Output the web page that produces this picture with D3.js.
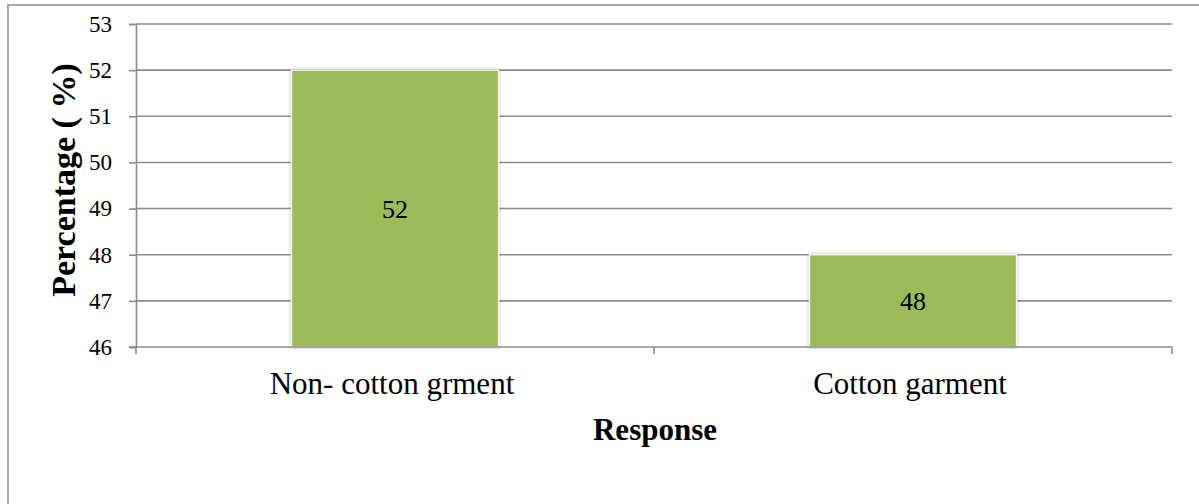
<!DOCTYPE html>
<html>
<head>
<meta charset="utf-8">
<script src="https://cdn.jsdelivr.net/npm/d3@7"></script>
<style>
  html, body { margin: 0; padding: 0; background: #fff; }
  svg { display: block; }
  text { font-family: "Liberation Serif", "Times New Roman", serif; fill: #000; }
</style>
</head>
<body>
<svg id="chart" width="1199" height="504"></svg>
<script>
// Survey response shares
const categories = ["Non- cotton grment", "Cotton garment"];
const percentages = [52, 48];
const yTicks = [46, 47, 48, 49, 50, 51, 52, 53];

const serif = "'Liberation Serif', 'Times New Roman', serif";
const svg = d3.select("#chart");
const W = 1199, H = 504;
const plot = { left: 136, right: 1172, top: 24, bottom: 347 };

// Chart frame (left and top edges visible)
svg.append("rect")
  .attr("x", 8).attr("y", 5)
  .attr("width", W + 20).attr("height", H + 20)
  .attr("fill", "#fff")
  .attr("stroke", "#a6a6a6").attr("stroke-width", 2);

const y = d3.scaleLinear().domain([46, 53]).range([plot.bottom, plot.top]);
const x = d3.scaleBand().domain(categories)
  .range([plot.left, plot.right])
  .paddingInner(0.6).paddingOuter(0.3);
const xBand = d3.scaleBand().domain(categories).range([plot.left, plot.right]);

// Horizontal gridlines
svg.append("g").selectAll("line").data(yTicks.filter(t => t !== 46)).join("line")
  .attr("x1", plot.left).attr("x2", plot.right)
  .attr("y1", d => y(d)).attr("y2", d => y(d))
  .attr("stroke", "#8c8c8c").attr("stroke-width", 1.6);

// Soft shadow around bars
const defs = svg.append("defs");
const f = defs.append("filter").attr("id", "barShadow")
  .attr("x", "-5%").attr("y", "-5%").attr("width", "110%").attr("height", "110%");
f.append("feGaussianBlur").attr("in", "SourceAlpha").attr("stdDeviation", 1.5).attr("result", "b");
f.append("feComponentTransfer").attr("in", "b").attr("result", "s")
  .append("feFuncA").attr("type", "linear").attr("slope", 0.35);
const m = f.append("feMerge");
m.append("feMergeNode").attr("in", "s");
m.append("feMergeNode").attr("in", "SourceGraphic");

// Bars
svg.append("g").selectAll("rect").data(categories).join("rect")
  .attr("x", d => x(d))
  .attr("y", (d, i) => y(percentages[i]))
  .attr("width", x.bandwidth())
  .attr("height", (d, i) => y(46) - y(percentages[i]))
  .attr("fill", "#9bbb59")
  .attr("stroke", "#f2f2f2").attr("stroke-width", 1.5)
  .attr("filter", "url(#barShadow)");

// Value labels
svg.append("g").selectAll("text").data(categories).join("text")
  .attr("x", d => x(d) + x.bandwidth() / 2)
  .attr("y", (d, i) => (y(percentages[i]) + y(46)) / 2)
  .attr("dy", "0.35em")
  .attr("text-anchor", "middle")
  .attr("font-family", serif)
  .attr("font-size", 26)
  .text((d, i) => percentages[i]);

// Y axis
const yAxis = svg.append("g").attr("transform", `translate(${plot.left},0)`)
  .call(d3.axisLeft(y).tickValues(yTicks).tickSize(7).tickPadding(17).tickFormat(d3.format("d")));
yAxis.attr("font-family", serif);
yAxis.select(".domain").attr("stroke", "#8c8c8c").attr("stroke-width", 1.6);
yAxis.selectAll(".tick line").attr("stroke", "#8c8c8c").attr("stroke-width", 1.6);
yAxis.selectAll(".tick text").attr("font-size", 23)
  .attr("font-family", serif).attr("fill", "#000");

// X axis baseline and category ticks
svg.append("line")
  .attr("x1", plot.left - 7).attr("x2", plot.right)
  .attr("y1", plot.bottom).attr("y2", plot.bottom)
  .attr("stroke", "#8c8c8c").attr("stroke-width", 1.6);
const bounds = [plot.left, ...categories.map(c => xBand(c) + xBand.bandwidth())];
svg.append("g").selectAll("line").data(bounds).join("line")
  .attr("x1", d => d).attr("x2", d => d)
  .attr("y1", plot.bottom).attr("y2", plot.bottom + 7)
  .attr("stroke", "#8c8c8c").attr("stroke-width", 1.6);

// Category labels
svg.append("g").selectAll("text").data(categories).join("text")
  .attr("x", d => xBand(d) + xBand.bandwidth() / 2 - 3)
  .attr("y", 394)
  .attr("text-anchor", "middle")
  .attr("font-family", serif)
  .attr("font-size", 31)
  .text(d => d);

// Axis titles
svg.append("text")
  .attr("x", 655).attr("y", 440)
  .attr("text-anchor", "middle")
  .attr("font-family", serif)
  .attr("font-size", 31).attr("font-weight", "bold")
  .text("Response");

svg.append("text")
  .attr("transform", `translate(75,180) rotate(-90)`)
  .attr("text-anchor", "middle")
  .attr("font-family", serif)
  .attr("font-size", 34).attr("font-weight", "bold")
  .text("Percentage ( %)");
</script>
</body>
</html>
